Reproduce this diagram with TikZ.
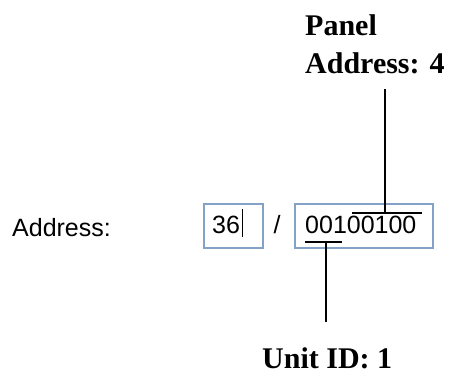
\documentclass[tikz,border=0pt]{standalone}
\usepackage{fontspec}
\setmainfont{Liberation Serif}
\setsansfont{Liberation Sans}
\usetikzlibrary{positioning}
\definecolor{fieldrule}{HTML}{84A2C6}

\begin{document}
\begin{tikzpicture}[x=1pt,y=-1pt,
 field/.style={draw=fieldrule,line width=1.6pt,inner sep=0pt,minimum height=44pt,anchor=north west},
 entry/.style={font=\fontsize{25}{30}\selectfont\sffamily,inner sep=0pt},
 callout/.style={font=\fontsize{30}{38}\selectfont\bfseries,align=left,inner sep=0pt,anchor=north west},
 bit/.style={line width=1.5pt}]
\useasboundingbox (0,0) rectangle (451,374);
% form row
\node[entry,anchor=base west] (caption) at (12,237) {Address:};
\node[field,minimum width=59pt] (panelbox) at (203,203) {};
\node[field,minimum width=138pt] (unitbox) at (294,203) {};
\node[entry,anchor=base west] (panelval) at (212,234) {36};
\node[entry,anchor=base] (slash) at (277,234) {/};
\node[entry,anchor=base west] (bits) at (305,234) {00100100};
\draw[line width=1pt] (242,209) -- (242,237); % caret
% bit groups
\coordinate (hi-l) at (352,213);
\coordinate (hi-r) at (422,213);
\coordinate (hi) at (385,213);
\coordinate (lo-l) at (305,242);
\coordinate (lo-r) at (342,242);
\coordinate (lo) at (326,242);
\node[callout] (panel) at (305,14) {Panel\\Address: 4};
\node[callout] (unit) at (262,347) {Unit ID: 1};
\draw[bit] (hi-l) -- (hi-r);
\draw[bit] (lo-l) -- (lo-r);
\draw[bit,shorten >=15pt] (hi) -- (hi |- panel.south);
\draw[bit,shorten >=25pt] (lo) -- (lo |- unit.north);
\end{tikzpicture}
\end{document}
